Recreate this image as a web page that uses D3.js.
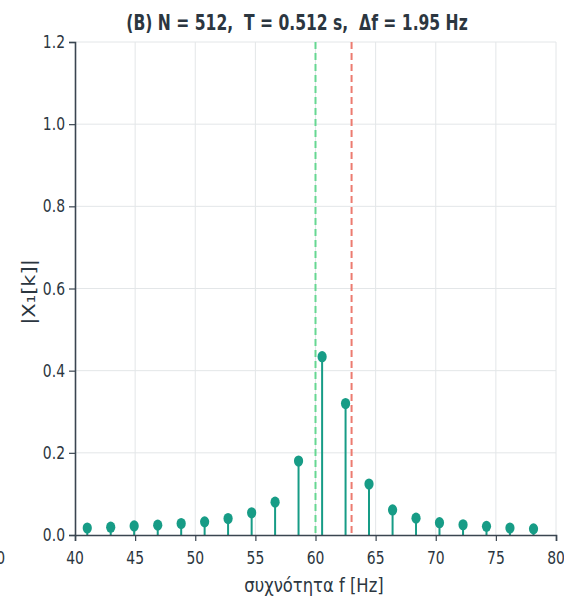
<!DOCTYPE html>
<html>
<head>
<meta charset="utf-8">
<script src="https://cdn.jsdelivr.net/npm/d3@7/dist/d3.min.js"></script>
<style>
  html, body { margin: 0; padding: 0; background: #ffffff; }
  svg { display: block; }
  text { font-family: "DejaVu Sans", sans-serif; fill: #2b3640; white-space: pre; }
</style>
</head>
<body>
<svg id="chart" width="564" height="600"></svg>
<script>
// DFT bin spacing and magnitudes of the spectrum around 60 Hz
const binFreqs = [41.02, 42.97, 44.92, 46.88, 48.83, 50.78, 52.73, 54.69, 56.64, 58.59,
                  60.55, 62.50, 64.45, 66.41, 68.36, 70.31, 72.27, 74.22, 76.17, 78.13];
const magnitudes = [0.017, 0.019, 0.022, 0.024, 0.028, 0.032, 0.040, 0.054, 0.080, 0.180,
                    0.434, 0.320, 0.124, 0.061, 0.041, 0.030, 0.025, 0.021, 0.017, 0.015];
const refFreqs = [60, 63];
const xTicks = [40, 45, 50, 55, 60, 65, 70, 75, 80];
const yTicks = [0.0, 0.2, 0.4, 0.6, 0.8, 1.0, 1.2];
const titleText = "(B) N = 512,  T = 0.512 s,  \u0394f = 1.95 Hz";
const xLabel = "συχνότητα f [Hz]";
const yLabel = "|X\u2081[k]|";

const svg = d3.select("#chart");
const m = { left: 75, right: 556, top: 42, bottom: 535 };
const sx = 0.82; // horizontal squeeze applied to all lettering

const x = d3.scaleLinear().domain([40, 80]).range([m.left, m.right]);
const y = d3.scaleLinear().domain([0, 1.2]).range([m.bottom, m.top]);

const stemColor = "#179c86";
const axisColor = "#3a4550";
const gridColor = "#e3e6e8";

function squeezedText(g, px, py, str, opts = {}) {
  const t = g.append("text")
    .attr("transform", `translate(${px},${py}) scale(${opts.sx || sx},1)`)
    .attr("text-anchor", opts.anchor || "middle")
    .attr("font-size", opts.size || 15)
    .attr("xml:space", "preserve")
    .text(str);
  if (opts.weight) t.attr("font-weight", opts.weight);
  return t;
}

// grid
const grid = svg.append("g");
grid.selectAll("line.gx").data(xTicks.slice(1)).join("line")
  .attr("x1", d => x(d)).attr("x2", d => x(d))
  .attr("y1", m.top).attr("y2", m.bottom)
  .attr("stroke", gridColor).attr("stroke-width", 1);
grid.selectAll("line.gy").data(yTicks.slice(1)).join("line")
  .attr("x1", m.left).attr("x2", m.right)
  .attr("y1", d => y(d)).attr("y2", d => y(d))
  .attr("stroke", gridColor).attr("stroke-width", 1);

// reference frequencies (dashed)
svg.selectAll("line.ref").data(refFreqs).join("line")
  .attr("x1", d => x(d)).attr("x2", d => x(d))
  .attr("y1", m.top).attr("y2", m.bottom)
  .attr("stroke", (d, i) => i === 0 ? "#66d792" : "#ec7b70")
  .attr("stroke-width", 2)
  .attr("stroke-dasharray", "7,4");

// stems
const pts = binFreqs.map((f, i) => ({ f, v: magnitudes[i] }));
svg.selectAll("line.stem").data(pts).join("line")
  .attr("x1", d => x(d.f)).attr("x2", d => x(d.f))
  .attr("y1", m.bottom).attr("y2", d => y(d.v))
  .attr("stroke", stemColor).attr("stroke-width", 2);
svg.selectAll("ellipse.head").data(pts).join("ellipse")
  .attr("cx", d => x(d.f)).attr("cy", d => y(d.v))
  .attr("rx", 4.6).attr("ry", 5.6)
  .attr("fill", stemColor);

// axes
const xAxis = svg.append("g").attr("transform", `translate(0,${m.bottom})`)
  .call(d3.axisBottom(x).tickValues(xTicks).tickSize(6).tickFormat(""));
const yAxis = svg.append("g").attr("transform", `translate(${m.left},0)`)
  .call(d3.axisLeft(y).tickValues(yTicks).tickSize(6).tickFormat(""));
[xAxis, yAxis].forEach(a => {
  a.select(".domain").attr("stroke", axisColor).attr("stroke-width", 1.6);
  a.selectAll(".tick line").attr("stroke", axisColor).attr("stroke-width", 1.2);
});

const labels = svg.append("g");
xTicks.forEach(t => squeezedText(labels, x(t), m.bottom + 29, String(t), { size: 17 }));
yTicks.forEach(t => squeezedText(labels, m.left - 10, y(t) + 6, d3.format(".1f")(t), { size: 17, anchor: "end" }));

// tail of a neighbouring panel's tick label, cut by the edge
squeezedText(labels, 5, m.bottom + 29, "80", { size: 17, anchor: "end" });

squeezedText(labels, 297, 30, titleText, { size: 20.5, weight: "bold", sx: 0.76 });
squeezedText(labels, 314, 592, xLabel, { size: 20 });
labels.append("text")
  .attr("transform", `translate(35,292) rotate(-90) scale(1,${sx})`)
  .attr("text-anchor", "middle")
  .attr("font-size", 21)
  .text(yLabel);
</script>
</body>
</html>
